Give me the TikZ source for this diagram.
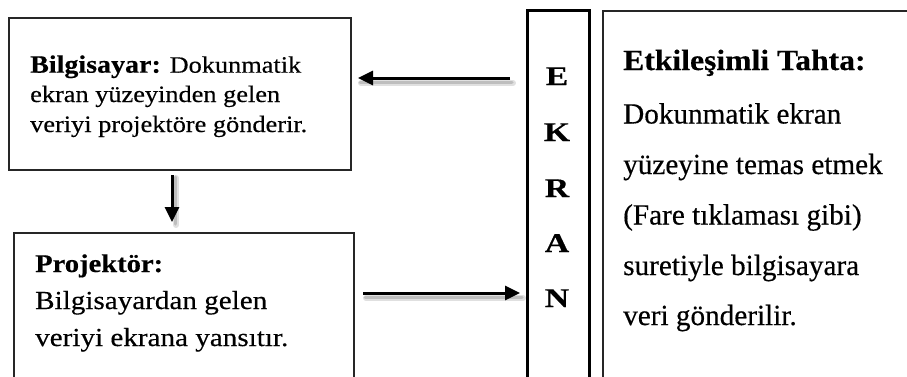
\documentclass[tikz,border=0pt]{standalone}
\usepackage{fontspec}
\setmainfont{Liberation Serif}[FakeBold=0.35]
\newfontfamily\leftfont{Liberation Serif}[FakeStretch=1.12, FakeBold=0.35]
\newfontfamily\ekranfont{Liberation Serif}[FakeStretch=1.25, FakeBold=0.5]
\newfontfamily\titlefont{Liberation Serif}[FakeStretch=1.08, FakeBold=0.35]
\usetikzlibrary{arrows.meta}
\begin{document}
\begin{tikzpicture}[x=1pt,y=-1pt,
  box/.style={draw=black!85, line width=1.5pt, inner sep=0pt, anchor=north west},
  txt/.style={anchor=base west, inner sep=0pt},
  ltr/.style={anchor=base, inner sep=0pt, font=\ekranfont\bfseries\fontsize{27}{30}\selectfont},
  arr/.style={line width=3pt, -{Triangle[length=15pt,width=14pt]}},
  shad/.style={line width=6pt, draw=black, opacity=0.12, line cap=round},
  shadb/.style={line width=3pt, draw=black, opacity=0.15, line cap=round}]
\useasboundingbox (0,0) rectangle (907,376);
\clip (0,0) rectangle (907,376);
\fill[white] (0,0) rectangle (907,376);
% boxes
\node[box, minimum width=342pt, minimum height=152pt] (bilg) at (8,17) {};
\node[box, minimum width=340pt, minimum height=170pt] (proj) at (13,232) {};
\node[box, line width=3pt, draw=black, minimum width=62pt, minimum height=390pt] (ekran) at (526,9) {};
\node[box, minimum width=320pt, minimum height=390pt] (tahta) at (602,10) {};
% Bilgisayar text
\begin{scope}[font=\leftfont\fontsize{23.5}{27}\selectfont]
\node[txt] (b1) at (30,72.7) {{\bfseries\fontsize{25}{27}\selectfont Bilgisayar:} Dokunmatik};
\node[txt] (b2) at (30,102) {ekran yüzeyinden gelen};
\node[txt] (b3) at (30,132) {veriyi projektöre gönderir.};
\end{scope}
% Projektor text
\begin{scope}[font=\leftfont\fontsize{26}{29}\selectfont]
\node[txt] (p1) at (35,272) {\bfseries\fontsize{25.5}{29}\selectfont Projektör:};
\node[txt] (p2) at (35,309) {Bilgisayardan gelen};
\node[txt] (p3) at (35,346) {veriyi ekrana yansıtır.};
\end{scope}
% Tahta text
\node[txt, font=\titlefont\bfseries\fontsize{29.3}{33}\selectfont] (t0) at (623,70) {Etkileşimli Tahta:};
\begin{scope}[font=\fontsize{29.2}{33}\selectfont]
\node[txt] (t1) at (623,123.5) {Dokunmatik ekran};
\node[txt] (t2) at (623,174) {yüzeyine temas etmek};
\node[txt] (t3) at (623,224.5) {(Fare tıklaması gibi)};
\node[txt] (t4) at (623,275) {suretiyle bilgisayara};
\node[txt] (t5) at (623,325) {veri gönderilir.};
\end{scope}
% EKRAN letters
\node[ltr] (e1) at (557,85) {E};
\node[ltr] (e2) at (557,141) {K};
\node[ltr] (e3) at (557,197) {R};
\node[ltr] (e4) at (557,252) {A};
\node[ltr] (e5) at (557,307) {N};
% arrow ends
\coordinate (a1s) at (510,78);
\coordinate (a1e) at (358,78);
\coordinate (a2s) at (172,175);
\coordinate (a2e) at (172,222);
\coordinate (a3s) at (363,293);
\coordinate (a3e) at (520,293);
% shadows
\draw[shad] ([shift={(3,5)}]a1s) -- ([shift={(3,5)}]a1e);
\draw[shadb] ([shift={(2,4)}]a1s) -- ([shift={(2,4)}]a1e);
\draw[shad] ([shift={(4,3)}]a2s) -- ([shift={(4,3)}]a2e);
\draw[shadb] ([shift={(3,2)}]a2s) -- ([shift={(3,2)}]a2e);
\draw[shad] ([shift={(3,5)}]a3s) -- ([shift={(3,5)}]a3e);
\draw[shadb] ([shift={(2,4)}]a3s) -- ([shift={(2,4)}]a3e);
% arrows
\draw[arr] (a1s) -- (a1e);
\draw[arr] (a2s) -- (a2e);
\draw[arr] (a3s) -- (a3e);
\end{tikzpicture}
\end{document}
